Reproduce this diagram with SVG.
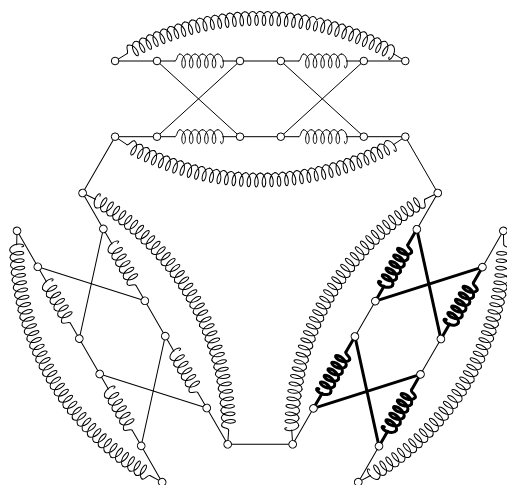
<svg xmlns="http://www.w3.org/2000/svg" width="507" height="485" viewBox="0 0 507 485">
<style>
.w{fill:none;stroke:#000;stroke-width:1;stroke-linecap:round}
.k{fill:none;stroke:#000;stroke-width:3;stroke-linecap:round}
.n{fill:#fff;stroke:#000;stroke-width:1}
</style>
<defs>
<path id="t" d="M0,-7C2.47,-7 4.77,-3.67 5.4,0 6.03,3.67 5,7 3.8,7 2.6,7 1.57,3.67 2.2,0 2.83,-3.67 5.13,-7 7.6,-7"/>
<path id="h" d="M-4.8,0C-2.4,0 -3,-7 0,-7"/>
<path id="e" d="M0,-7C2.47,-7 4.77,-3.67 5.4,0 6.03,3.67 5,7 3.8,7 3.2,7 2.7,6 2.8,5"/>
<g id="coil">
<path d="M0,0H18M65.7,0H83"/>
<use href="#h" x="22.8"/>
<use href="#t" x="22.8"/><use href="#t" x="30.4"/><use href="#t" x="38"/><use href="#t" x="45.6"/><use href="#t" x="53.2"/>
<use href="#e" x="60.8"/>
</g>
<g id="block">
<use href="#coil"/>
<use href="#coil" y="75.7"/>
<path d="M0,0L83,75.7M83,0L0,75.7"/>
</g>
<g id="outer" transform="translate(260.2 287)">
<path d="M-145.1,-226L-133.2,-233.3M145.1,-226L133.2,-233.3"/>
<use href="#h" transform="rotate(-28.7)translate(0,-268.6)"/>
<use href="#t" transform="rotate(-28.7)translate(0,-268.6)"/>
<use href="#t" transform="rotate(-27.106)translate(0,-268.6)"/>
<use href="#t" transform="rotate(-25.512)translate(0,-268.6)"/>
<use href="#t" transform="rotate(-23.918)translate(0,-268.6)"/>
<use href="#t" transform="rotate(-22.324)translate(0,-268.6)"/>
<use href="#t" transform="rotate(-20.73)translate(0,-268.6)"/>
<use href="#t" transform="rotate(-19.136)translate(0,-268.6)"/>
<use href="#t" transform="rotate(-17.542)translate(0,-268.6)"/>
<use href="#t" transform="rotate(-15.948)translate(0,-268.6)"/>
<use href="#t" transform="rotate(-14.354)translate(0,-268.6)"/>
<use href="#t" transform="rotate(-12.76)translate(0,-268.6)"/>
<use href="#t" transform="rotate(-11.166)translate(0,-268.6)"/>
<use href="#t" transform="rotate(-9.572)translate(0,-268.6)"/>
<use href="#t" transform="rotate(-7.978)translate(0,-268.6)"/>
<use href="#t" transform="rotate(-6.384)translate(0,-268.6)"/>
<use href="#t" transform="rotate(-4.79)translate(0,-268.6)"/>
<use href="#t" transform="rotate(-3.196)translate(0,-268.6)"/>
<use href="#t" transform="rotate(-1.602)translate(0,-268.6)"/>
<use href="#t" transform="rotate(-0.008)translate(0,-268.6)"/>
<use href="#t" transform="rotate(1.586)translate(0,-268.6)"/>
<use href="#t" transform="rotate(3.18)translate(0,-268.6)"/>
<use href="#t" transform="rotate(4.774)translate(0,-268.6)"/>
<use href="#t" transform="rotate(6.368)translate(0,-268.6)"/>
<use href="#t" transform="rotate(7.962)translate(0,-268.6)"/>
<use href="#t" transform="rotate(9.556)translate(0,-268.6)"/>
<use href="#t" transform="rotate(11.15)translate(0,-268.6)"/>
<use href="#t" transform="rotate(12.744)translate(0,-268.6)"/>
<use href="#t" transform="rotate(14.338)translate(0,-268.6)"/>
<use href="#t" transform="rotate(15.932)translate(0,-268.6)"/>
<use href="#t" transform="rotate(17.526)translate(0,-268.6)"/>
<use href="#t" transform="rotate(19.12)translate(0,-268.6)"/>
<use href="#t" transform="rotate(20.714)translate(0,-268.6)"/>
<use href="#t" transform="rotate(22.308)translate(0,-268.6)"/>
<use href="#t" transform="rotate(23.902)translate(0,-268.6)"/>
<use href="#t" transform="rotate(25.496)translate(0,-268.6)"/>
<use href="#t" transform="rotate(27.09)translate(0,-268.6)"/>
<use href="#e" transform="rotate(28.684)translate(0,-268.6)"/>
</g>
<g id="inner" transform="translate(260.2 -88.6)">
<path d="M-145.1,225.3L-133.2,233.3M145.1,225.3L133.2,233.3"/>
<use href="#h" transform="rotate(28.7)translate(0,268.6)"/>
<use href="#t" transform="rotate(28.7)translate(0,268.6)"/>
<use href="#t" transform="rotate(27.106)translate(0,268.6)"/>
<use href="#t" transform="rotate(25.512)translate(0,268.6)"/>
<use href="#t" transform="rotate(23.918)translate(0,268.6)"/>
<use href="#t" transform="rotate(22.324)translate(0,268.6)"/>
<use href="#t" transform="rotate(20.73)translate(0,268.6)"/>
<use href="#t" transform="rotate(19.136)translate(0,268.6)"/>
<use href="#t" transform="rotate(17.542)translate(0,268.6)"/>
<use href="#t" transform="rotate(15.948)translate(0,268.6)"/>
<use href="#t" transform="rotate(14.354)translate(0,268.6)"/>
<use href="#t" transform="rotate(12.76)translate(0,268.6)"/>
<use href="#t" transform="rotate(11.166)translate(0,268.6)"/>
<use href="#t" transform="rotate(9.572)translate(0,268.6)"/>
<use href="#t" transform="rotate(7.978)translate(0,268.6)"/>
<use href="#t" transform="rotate(6.384)translate(0,268.6)"/>
<use href="#t" transform="rotate(4.79)translate(0,268.6)"/>
<use href="#t" transform="rotate(3.196)translate(0,268.6)"/>
<use href="#t" transform="rotate(1.602)translate(0,268.6)"/>
<use href="#t" transform="rotate(0.008)translate(0,268.6)"/>
<use href="#t" transform="rotate(-1.586)translate(0,268.6)"/>
<use href="#t" transform="rotate(-3.18)translate(0,268.6)"/>
<use href="#t" transform="rotate(-4.774)translate(0,268.6)"/>
<use href="#t" transform="rotate(-6.368)translate(0,268.6)"/>
<use href="#t" transform="rotate(-7.962)translate(0,268.6)"/>
<use href="#t" transform="rotate(-9.556)translate(0,268.6)"/>
<use href="#t" transform="rotate(-11.15)translate(0,268.6)"/>
<use href="#t" transform="rotate(-12.744)translate(0,268.6)"/>
<use href="#t" transform="rotate(-14.338)translate(0,268.6)"/>
<use href="#t" transform="rotate(-15.932)translate(0,268.6)"/>
<use href="#t" transform="rotate(-17.526)translate(0,268.6)"/>
<use href="#t" transform="rotate(-19.12)translate(0,268.6)"/>
<use href="#t" transform="rotate(-20.714)translate(0,268.6)"/>
<use href="#t" transform="rotate(-22.308)translate(0,268.6)"/>
<use href="#t" transform="rotate(-23.902)translate(0,268.6)"/>
<use href="#t" transform="rotate(-25.496)translate(0,268.6)"/>
<use href="#t" transform="rotate(-27.09)translate(0,268.6)"/>
<use href="#e" transform="rotate(-28.684)translate(0,268.6)"/>
</g>
<g id="frame">
<use href="#outer"/>
<use href="#inner"/>
<path d="M115.1,61H157M240,61H280.8M363.8,61H405.3M115.1,136.7H157M240,136.7H280.8M363.8,136.7H405.3M405.3,136.7L437.8,193"/>
</g>
<g id="blocks">
<use href="#block" x="157" y="61"/>
<use href="#block" x="280.8" y="61"/>
</g>
</defs>
<rect width="507" height="485" fill="#fff"/>
<g id="connectors">
<g class="w"><use href="#frame"/><use href="#blocks"/></g>
<g class="w" transform="rotate(240 260.2 258)"><use href="#frame"/><use href="#blocks"/></g>
<g class="w" transform="rotate(120 260.2 258)"><use href="#frame"/></g>
<g class="k" transform="rotate(120 260.2 258)"><use href="#blocks"/></g>
</g>
<g id="nodes">
<g id="top">
<g id="a1"><circle class="n" cx="115.1" cy="61" r="3.8"/></g>
<g id="a2"><circle class="n" cx="157" cy="61" r="3.8"/></g>
<g id="a3"><circle class="n" cx="240" cy="61" r="3.8"/></g>
<g id="a4"><circle class="n" cx="280.8" cy="61" r="3.8"/></g>
<g id="a5"><circle class="n" cx="363.8" cy="61" r="3.8"/></g>
<g id="a6"><circle class="n" cx="405.3" cy="61" r="3.8"/></g>
<g id="a7"><circle class="n" cx="115.1" cy="136.7" r="3.8"/></g>
<g id="a8"><circle class="n" cx="157" cy="136.7" r="3.8"/></g>
<g id="a9"><circle class="n" cx="240" cy="136.7" r="3.8"/></g>
<g id="a10"><circle class="n" cx="280.8" cy="136.7" r="3.8"/></g>
<g id="a11"><circle class="n" cx="363.8" cy="136.7" r="3.8"/></g>
<g id="a12"><circle class="n" cx="405.3" cy="136.7" r="3.8"/></g>
</g>
<g id="right" transform="rotate(120 260.2 258)">
<g id="b1"><circle class="n" cx="115.1" cy="61" r="3.8"/></g>
<g id="b2"><circle class="n" cx="157" cy="61" r="3.8"/></g>
<g id="b3"><circle class="n" cx="240" cy="61" r="3.8"/></g>
<g id="b4"><circle class="n" cx="280.8" cy="61" r="3.8"/></g>
<g id="b5"><circle class="n" cx="363.8" cy="61" r="3.8"/></g>
<g id="b6"><circle class="n" cx="405.3" cy="61" r="3.8"/></g>
<g id="b7"><circle class="n" cx="115.1" cy="136.7" r="3.8"/></g>
<g id="b8"><circle class="n" cx="157" cy="136.7" r="3.8"/></g>
<g id="b9"><circle class="n" cx="240" cy="136.7" r="3.8"/></g>
<g id="b10"><circle class="n" cx="280.8" cy="136.7" r="3.8"/></g>
<g id="b11"><circle class="n" cx="363.8" cy="136.7" r="3.8"/></g>
<g id="b12"><circle class="n" cx="405.3" cy="136.7" r="3.8"/></g>
</g>
<g id="left" transform="rotate(240 260.2 258)">
<g id="c1"><circle class="n" cx="115.1" cy="61" r="3.8"/></g>
<g id="c2"><circle class="n" cx="157" cy="61" r="3.8"/></g>
<g id="c3"><circle class="n" cx="240" cy="61" r="3.8"/></g>
<g id="c4"><circle class="n" cx="280.8" cy="61" r="3.8"/></g>
<g id="c5"><circle class="n" cx="363.8" cy="61" r="3.8"/></g>
<g id="c6"><circle class="n" cx="405.3" cy="61" r="3.8"/></g>
<g id="c7"><circle class="n" cx="115.1" cy="136.7" r="3.8"/></g>
<g id="c8"><circle class="n" cx="157" cy="136.7" r="3.8"/></g>
<g id="c9"><circle class="n" cx="240" cy="136.7" r="3.8"/></g>
<g id="c10"><circle class="n" cx="280.8" cy="136.7" r="3.8"/></g>
<g id="c11"><circle class="n" cx="363.8" cy="136.7" r="3.8"/></g>
<g id="c12"><circle class="n" cx="405.3" cy="136.7" r="3.8"/></g>
</g>
</g>
</svg>
